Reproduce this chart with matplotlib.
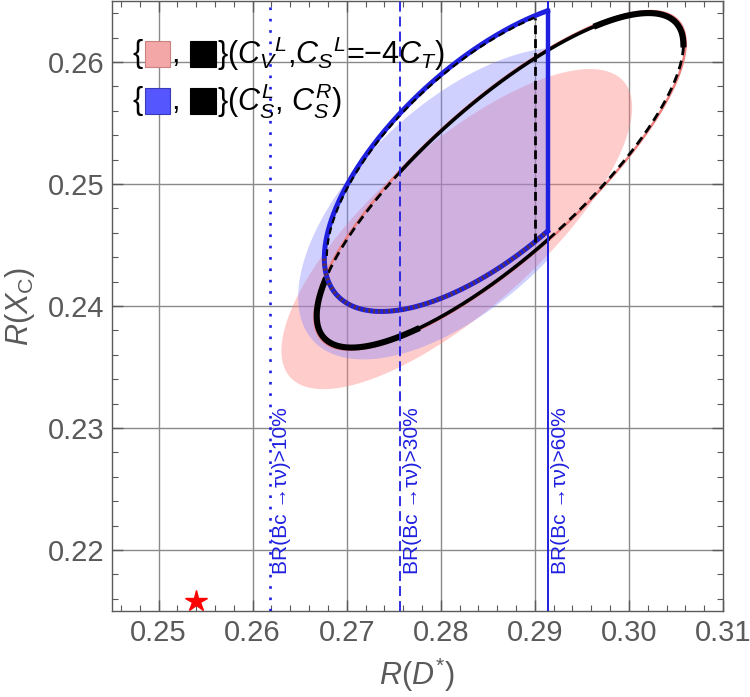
import numpy as np
import matplotlib
matplotlib.use("Agg")
import matplotlib.pyplot as plt
from matplotlib.patches import Rectangle
from matplotlib.offsetbox import AnchoredOffsetbox, DrawingArea, HPacker, TextArea, VPacker

plt.rcParams["font.family"] = ["Liberation Sans", "DejaVu Sans"]
plt.rcParams["mathtext.fontset"] = "custom"
plt.rcParams["mathtext.rm"] = "Liberation Sans"
plt.rcParams["mathtext.it"] = "Liberation Sans:italic"
plt.rcParams["mathtext.bf"] = "Liberation Sans:bold"

# regions: centre x, centre y, half-width, half-height, correlation
pink_fill = [0.2817, 0.2463, 0.01864, 0.01312, 0.76]
blue_fill = [0.2822, 0.2484, 0.01736, 0.01278, 0.60]
ring = [0.2863, 0.2503, 0.01949, 0.01371, 0.81]
blue_ring = [0.2853, 0.2523, 0.01768, 0.01275, 0.657]

br_cuts = [0.2618, 0.2757, 0.2914]
br_labels = ["BR(Bc \u2192\u03c4\u03bd)>10%", "BR(Bc \u2192\u03c4\u03bd)>30%", "BR(Bc \u2192\u03c4\u03bd)>60%"]
csr_cut = 0.2900
ring_dash_upper = [0.2677, 0.2757]

sm_point = [0.2540, 0.2158]

xticks = [0.25, 0.26, 0.27, 0.28, 0.29, 0.30, 0.31]
yticks = [0.22, 0.23, 0.24, 0.25, 0.26]

BLUE = "#1f1fe0"
GRAY = "#5a5a5a"


def ellipse_xy(shape, scale=1.0, n=1441):
    cx, cy, hw, hh, rho = shape
    t = np.linspace(0, 2 * np.pi, n)
    x = cx + scale * hw * np.cos(t)
    y = cy + scale * hh * (rho * np.cos(t) + np.sqrt(1 - rho ** 2) * np.sin(t))
    return t, x, y


def keep(x, y, mask):
    return np.where(mask, x, np.nan), np.where(mask, y, np.nan)


def arc_y(shape, xv, upper, scale=1.0):
    t, x, y = ellipse_xy(shape, scale)
    sel = np.sin(t) > 0 if upper else np.sin(t) < 0
    xs, ys = x[sel], y[sel]
    order = np.argsort(xs)
    return np.interp(xv, xs[order], ys[order])


fig = plt.figure(figsize=(7.5, 6.97), dpi=100)
ax = fig.add_axes([0.1487, 0.1234, 0.8153, 0.8752])
ax.set_xlim(0.245, 0.31)
ax.set_ylim(0.215, 0.265)

# grid
for v in xticks[:-1]:
    ax.axvline(v, color="#8a8a8a", lw=1.0, zorder=0)
for v in yticks:
    ax.axhline(v, color="#8a8a8a", lw=1.0, zorder=0)

# filled regions
_, px, py = ellipse_xy(pink_fill)
ax.fill(px, py, color="#ff8080", alpha=0.40, lw=0, zorder=1)
_, bx, by = ellipse_xy(blue_fill)
ax.fill(np.minimum(bx, br_cuts[2]), by, color="#8080ff", alpha=0.37, lw=0, zorder=2)

# (C_V^L, C_S^L=-4C_T) ring
t, rx, ry = ellipse_xy(ring)
_, sx, sy = ellipse_xy(ring, 1.012)
ax.plot(sx, sy, color="#ee7f7f", lw=1.8, zorder=3)
up = np.sin(t) > 0
dash_a = up & (rx >= ring_dash_upper[0]) & (rx <= ring_dash_upper[1])
dash_b = (~up) & (rx >= br_cuts[2])
solid = ~(dash_a | dash_b)
ax.plot(*keep(rx, ry, solid), color="black", lw=2.6, zorder=4)
thick = ((~up) & (rx < 0.2775)) | (up & (rx > 0.2965)) | (rx < 0.2685)
ax.plot(*keep(rx, ry, thick & solid), color="black", lw=4.4, zorder=4)
ax.plot(*keep(rx, ry, dash_a), color="black", lw=2.0, dashes=(3.2, 2.0), zorder=4)
ax.plot(*keep(rx, ry, dash_b), color="black", lw=2.0, dashes=(3.2, 2.0), zorder=4)

# (C_S^L, C_S^R) ring, cut by the 60% bound
t, qx, qy = ellipse_xy(blue_ring)
up = np.sin(t) > 0
inside = qx <= br_cuts[2]
ax.plot(*keep(qx, qy, inside), color=BLUE, lw=3.6, zorder=5)
ax.plot(*keep(qx, qy, inside & ~up), color="#5b3040", lw=3.0, dashes=(0.5, 0.7), zorder=6)
t2, kx, ky = ellipse_xy(blue_ring, 0.985)
ax.plot(*keep(kx, ky, (np.sin(t2) > 0) & (kx <= csr_cut)), color="black", lw=1.6,
        dashes=(3.0, 2.0), zorder=6)
y_lo = arc_y(blue_ring, csr_cut, upper=False)
y_hi = arc_y(blue_ring, csr_cut, upper=True, scale=0.985)
ax.plot([csr_cut, csr_cut], [y_lo, y_hi], color="black", lw=2.0, dashes=(3.2, 1.8), zorder=6)
y_lo = arc_y(blue_ring, br_cuts[2], upper=False)
y_hi = arc_y(blue_ring, br_cuts[2], upper=True)
ax.plot([br_cuts[2], br_cuts[2]], [y_lo, y_hi], color=BLUE, lw=3.2, zorder=6)

# BR(Bc -> tau nu) bounds
line_styles = [dict(dashes=(1.0, 3.3), lw=1.9), dict(dashes=(5.5, 2.8), lw=1.3), dict(lw=1.4)]
for xv, lab, st in zip(br_cuts, br_labels, line_styles):
    ax.axvline(xv, color=BLUE, zorder=7, **st)
    ax.annotate(lab, xy=(xv, 0.2180), xytext=(2, 0), textcoords="offset points",
                rotation=90, ha="left", va="bottom", color=BLUE, fontsize=15, zorder=8)

ax.plot(sm_point[0], sm_point[1], marker="*", color="red", ms=16, mec="red",
        clip_on=False, zorder=9)

# frame and ticks
ax.set_xticks(xticks)
ax.set_yticks(yticks)
ax.set_xticklabels(["%.2f" % v for v in xticks])
ax.set_yticklabels(["%.2f" % v for v in yticks])
ax.set_xticks(np.arange(0.246, 0.3095, 0.002), minor=True)
ax.set_yticks(np.arange(0.216, 0.2649, 0.002), minor=True)
ax.tick_params(which="both", direction="in", top=True, right=True, color=GRAY,
               labelcolor=GRAY, labelsize=21)
ax.tick_params(which="major", length=8, width=1.0)
ax.tick_params(axis="x", which="major", pad=6)
ax.tick_params(axis="y", which="major", pad=5)
ax.tick_params(which="minor", length=4, width=0.8)
for sp in ax.spines.values():
    sp.set_color(GRAY)
    sp.set_linewidth(1.0)
ax.set_xlabel(r"$R(D^{*})$", fontsize=22, color=GRAY, labelpad=6)
ax.set_ylabel(r"$R(X_{\mathrm{C}})$", fontsize=22, color=GRAY, labelpad=8)


def swatch(face, edge):
    da = DrawingArea(18.5, 18.5, 0, 0)
    da.add_artist(Rectangle((0, 0), 18.5, 18.5, fc=face, ec=edge, lw=0.8))
    return da


tp = dict(fontsize=22, color="black")
row1 = HPacker(children=[TextArea("{", textprops=tp), swatch("#f4a7a7", "#c98282"),
                         TextArea(", ", textprops=tp), swatch("black", "black"),
                         TextArea("}($C_V{}^L$,$C_S{}^L$=\u22124$C_T$)", textprops=tp)],
               align="center", pad=0, sep=1)
row2 = HPacker(children=[TextArea("{", textprops=tp), swatch("#5656ff", "#3a3ab8"),
                         TextArea(", ", textprops=tp), swatch("black", "black"),
                         TextArea("}($C_S^L$, $C_S^R$)", textprops=tp)],
               align="center", pad=0, sep=1)
legend = VPacker(children=[row1, row2], align="left", pad=0, sep=6)
ax.add_artist(AnchoredOffsetbox(loc="upper left", child=legend, pad=0, borderpad=0,
                                frameon=False, bbox_to_anchor=(0.035, 0.945),
                                bbox_transform=ax.transAxes))

fig.savefig("out.png", dpi=100)
